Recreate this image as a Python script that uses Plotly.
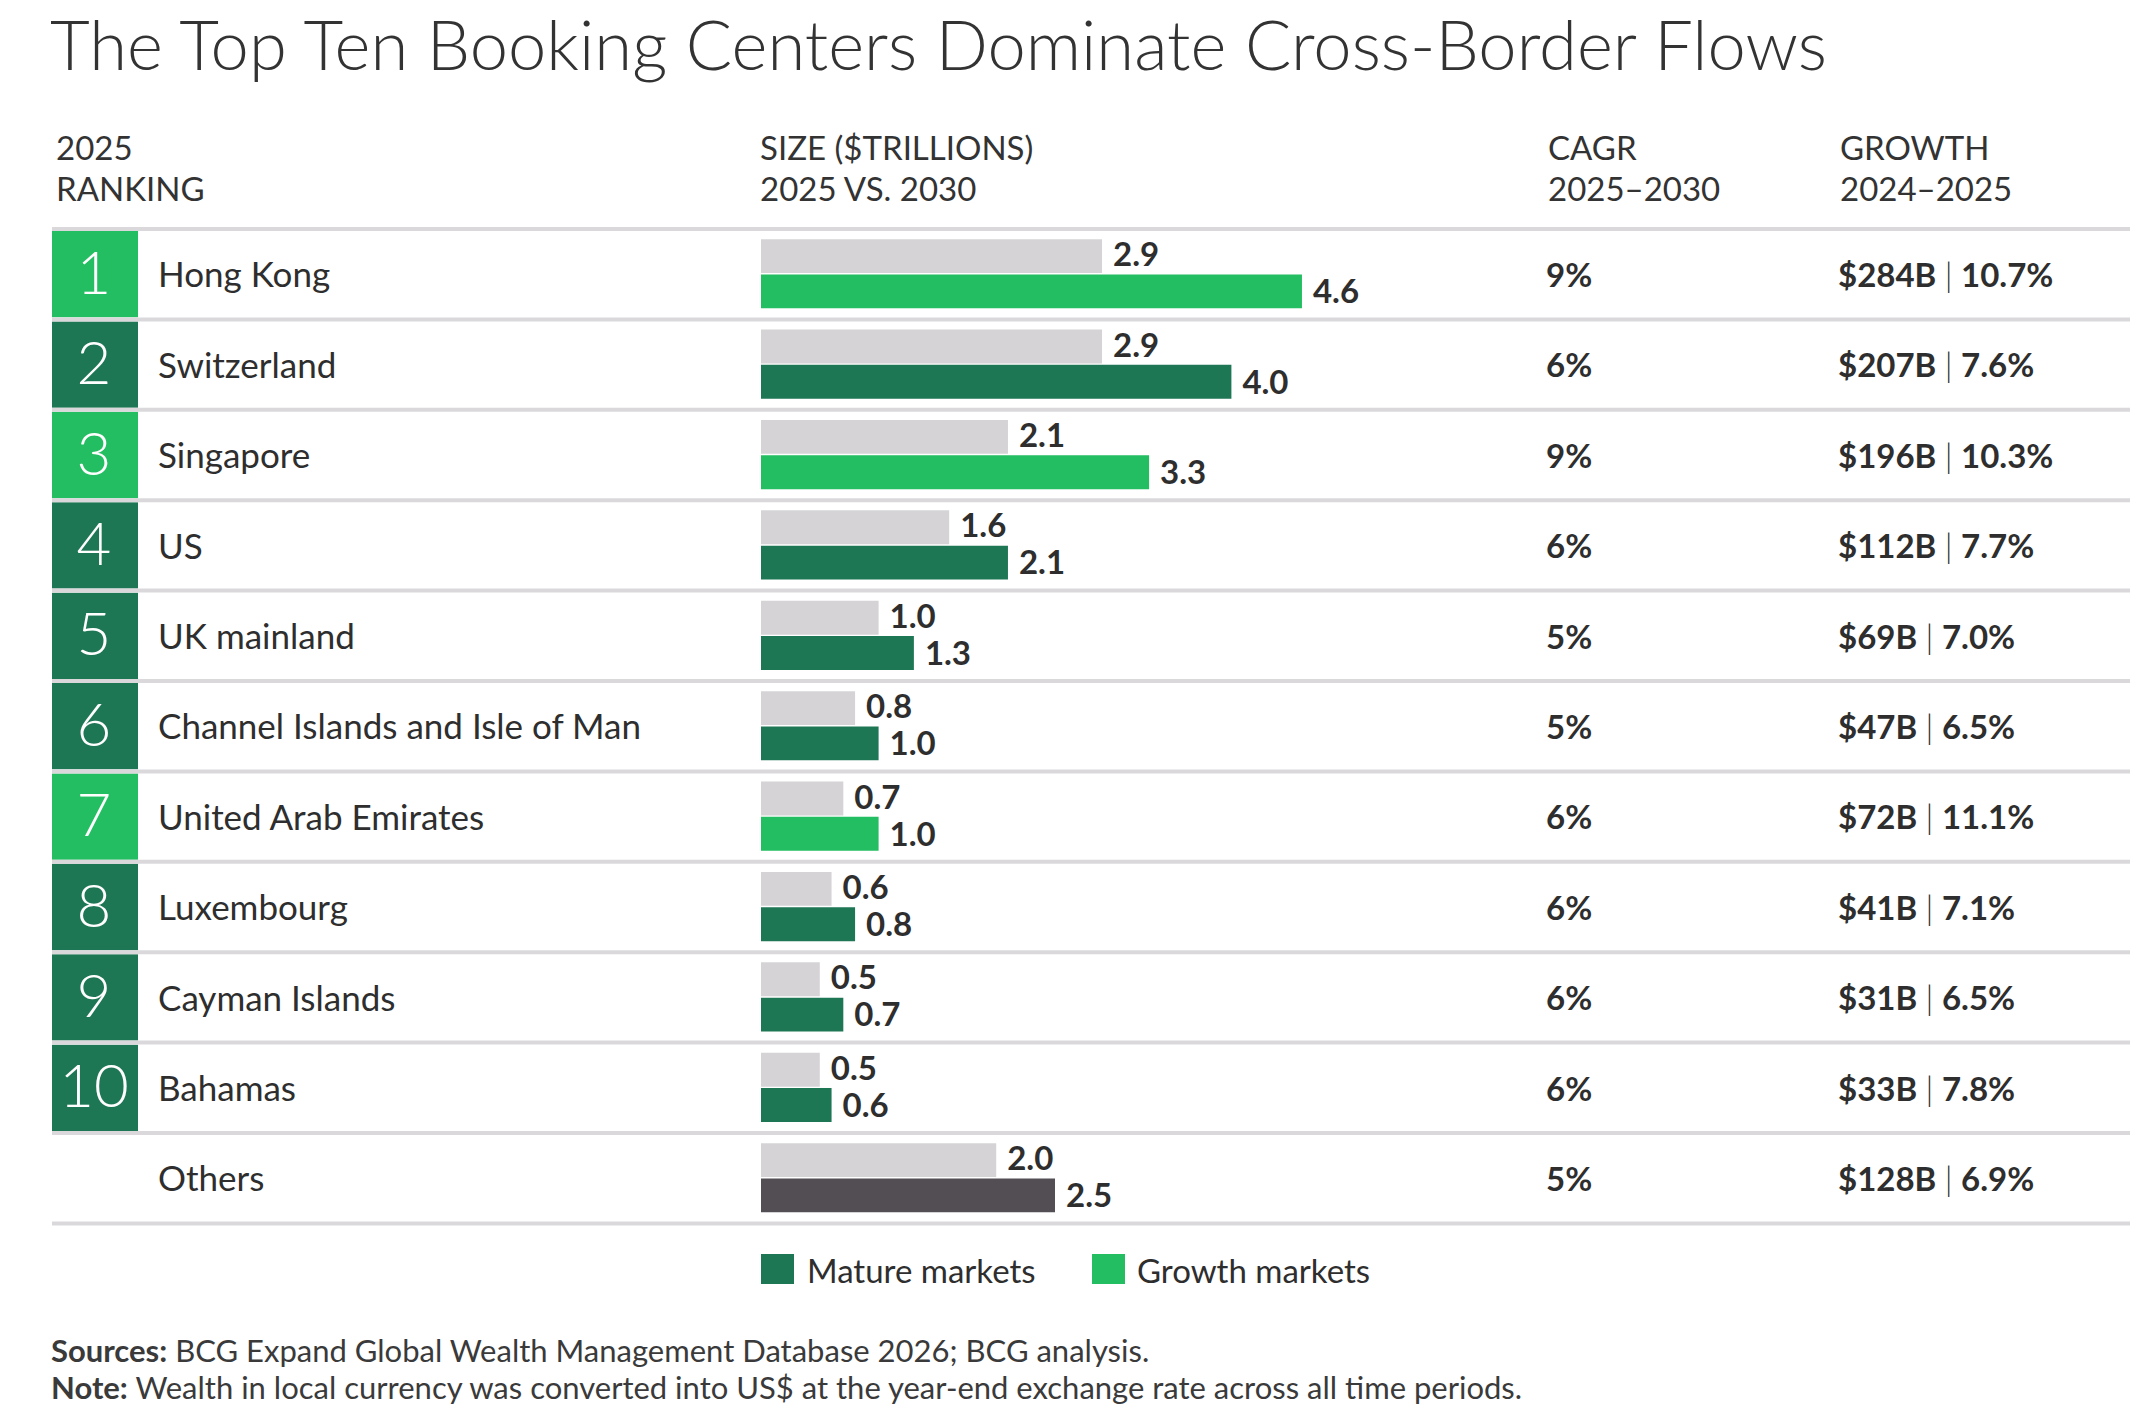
import plotly.graph_objects as go

# data
ranks = ["1", "2", "3", "4", "5", "6", "7", "8", "9", "10", ""]
centers = ["Hong Kong", "Switzerland", "Singapore", "US", "UK mainland",
           "Channel Islands and Isle of Man", "United Arab Emirates",
           "Luxembourg", "Cayman Islands", "Bahamas", "Others"]
size_2025 = [2.9, 2.9, 2.1, 1.6, 1.0, 0.8, 0.7, 0.6, 0.5, 0.5, 2.0]
size_2030 = [4.6, 4.0, 3.3, 2.1, 1.3, 1.0, 1.0, 0.8, 0.7, 0.6, 2.5]
market = ["growth", "mature", "growth", "mature", "mature", "mature",
          "growth", "mature", "mature", "mature", "other"]
cagr = ["9%", "6%", "9%", "6%", "5%", "5%", "6%", "6%", "6%", "6%", "5%"]
growth_abs = ["$284B", "$207B", "$196B", "$112B", "$69B", "$47B", "$72B",
              "$41B", "$31B", "$33B", "$128B"]
growth_pct = ["10.7%", "7.6%", "10.3%", "7.7%", "7.0%", "6.5%", "11.1%",
              "7.1%", "6.5%", "7.8%", "6.9%"]

SW, SH = 2138, 1428      # browser window
OFF = 8                  # default body margin of the page
W, H = SW - OFF, SH - OFF
FONT = "Lato, 'Noto Sans', sans-serif"
TXT = "#2e2e2e"
GRAY = "#d5d3d6"
LINE = "#dad8db"
COLORS = {"growth": "#23be62", "mature": "#1d7654", "other": "#524e53"}

# layout in window pixels
top, row_h = 229, 90.4
bar_x0, px_per_unit = 761, 117.6

n = len(centers)
rows = list(range(n))
bar_colors = [COLORS[m] for m in market]
box_colors = [COLORS[m] if m != "other" else "rgba(0,0,0,0)" for m in market]
mid = [r + 0.5 for r in rows]
text_mid = [r + 0.55 for r in rows]

fig = go.Figure()

# rank boxes (x2 is a window-pixel axis for the table columns)
fig.add_bar(x=[86] * n, base=[52] * n, y=mid, width=0.955,
            orientation="h", marker=dict(color=box_colors, line_width=0),
            xaxis="x2", yaxis="y", hoverinfo="skip")
fig.add_scatter(x=[94] * n, y=text_mid, text=ranks, mode="text",
                textposition="middle center", xaxis="x2", yaxis="y",
                textfont=dict(family=FONT, size=60, color="white", weight=300),
                hoverinfo="skip")
fig.add_scatter(x=[158] * n, y=text_mid, text=centers, mode="text",
                textposition="middle right", xaxis="x2", yaxis="y",
                textfont=dict(family=FONT, size=35, color=TXT), hoverinfo="skip")

# size bars
fig.add_bar(x=size_2025, y=[r + 0.30 for r in rows], width=0.375, orientation="h",
            marker=dict(color=GRAY, line_width=0), hoverinfo="skip")
fig.add_bar(x=size_2030, y=[r + 0.69 for r in rows], width=0.375, orientation="h",
            marker=dict(color=bar_colors, line_width=0), hoverinfo="skip")
label_marker = dict(size=16, color="rgba(0,0,0,0)")
fig.add_scatter(x=size_2025, y=[r + 0.32 for r in rows],
                text=[f"{v:.1f}" for v in size_2025], mode="markers+text",
                marker=label_marker, textposition="middle right",
                textfont=dict(family=FONT, size=33, color=TXT, weight=700),
                hoverinfo="skip")
fig.add_scatter(x=size_2030, y=[r + 0.73 for r in rows],
                text=[f"{v:.1f}" for v in size_2030], mode="markers+text",
                marker=label_marker, textposition="middle right",
                textfont=dict(family=FONT, size=33, color=TXT, weight=700),
                hoverinfo="skip")

# CAGR and growth columns
fig.add_scatter(x=[1546] * n, y=text_mid, text=cagr, mode="text",
                textposition="middle right", xaxis="x2", yaxis="y",
                textfont=dict(family=FONT, size=33, color=TXT, weight=700),
                hoverinfo="skip")
fig.add_scatter(x=[1838] * n, y=text_mid,
                text=[f"<b>{a}</b> <span style='font-weight:300'>|</span> <b>{p}</b>"
                      for a, p in zip(growth_abs, growth_pct)],
                mode="text", textposition="middle right", xaxis="x2", yaxis="y",
                textfont=dict(family=FONT, size=33, color=TXT), hoverinfo="skip")

# row separators
for i in range(n + 1):
    fig.add_shape(type="line", xref="paper", yref="y", x0=(52 - OFF) / W, x1=1,
                  y0=i, y1=i, line=dict(color=LINE, width=4), layer="above")


def ann(text, x, y, size, weight=400, color=TXT):
    fig.add_annotation(text=text, x=(x - OFF) / W, y=1 - (y - OFF) / H,
                       xref="paper", yref="paper", xanchor="left", yanchor="middle",
                       showarrow=False, borderpad=0, borderwidth=0,
                       font=dict(family=FONT, size=size, color=color, weight=weight))


ann("The Top Ten Booking Centers Dominate Cross-Border Flows", 50, 44, 68.7, 300, "#333333")

headers = [(56, "2025", "RANKING"), (760, "SIZE ($TRILLIONS)", "2025 VS. 2030"),
           (1548, "CAGR", "2025\u20132030"), (1840, "GROWTH", "2024\u20132025")]
for hx, l1, l2 in headers:
    ann(l1, hx, 147, 33, color="#333333")
    ann(l2, hx, 188, 33, color="#333333")

# legend
legend_items = [("Mature markets", COLORS["mature"], 761, 807),
                ("Growth markets", COLORS["growth"], 1092, 1137)]
for label, col, sx, tx in legend_items:
    fig.add_shape(type="rect", xref="paper", yref="paper",
                  x0=(sx - OFF) / W, x1=(sx + 33 - OFF) / W,
                  y0=1 - (1284 - OFF) / H, y1=1 - (1254 - OFF) / H,
                  fillcolor=col, line_width=0)
    ann(label, tx, 1270, 33)

ann("<b>Sources:</b> BCG Expand Global Wealth Management Database 2026; BCG analysis.",
    51, 1350, 31, color="#3a3a3a")
ann("<b>Note:</b> Wealth in local currency was converted into US$ at the year-end exchange rate across all time periods.",
    51, 1387, 31, color="#3a3a3a")

axis_off = dict(showgrid=False, zeroline=False, showticklabels=False, ticks="",
                showline=False, fixedrange=True)
fig.update_layout(
    width=W, height=H, margin=dict(l=0, r=0, t=0, b=0),
    paper_bgcolor="white", plot_bgcolor="rgba(0,0,0,0)", showlegend=False,
    barmode="overlay",
    xaxis=dict(domain=[(bar_x0 - OFF) / W, 1], range=[0, (SW - bar_x0) / px_per_unit],
               anchor="y", **axis_off),
    xaxis2=dict(domain=[0, 1], range=[OFF, SW], anchor="y", **axis_off),
    yaxis=dict(domain=[0, 1], range=[(SH - top) / row_h, (OFF - top) / row_h], **axis_off),
)

fig.write_html("out.html")
